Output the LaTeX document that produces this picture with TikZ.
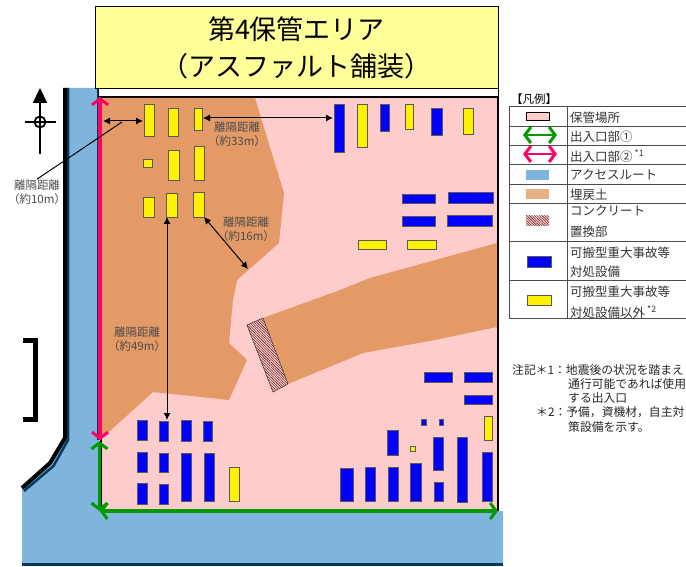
\documentclass[tikz,border=0pt]{standalone}
\usepackage{fontspec}
\usepackage{xcolor}
\usepackage{tikz}
\setmainfont{Noto Sans CJK JP}
\usetikzlibrary{arrows.meta, positioning, patterns.meta}
\definecolor{sitepink}{HTML}{FFCCCC}
\definecolor{routeblue}{HTML}{7FB5DD}
\definecolor{routeedge}{HTML}{003A5C}
\definecolor{soilbrown}{HTML}{E39A66}
\definecolor{legendsoil}{HTML}{E6B085}
\definecolor{gategreen}{HTML}{009900}
\definecolor{gatepink}{HTML}{FF0066}
\definecolor{titleyellow}{HTML}{FFFF99}

\begin{document}
\begin{tikzpicture}[
    x=1pt, y=-1pt,
    every node/.style={inner sep=0pt},
    bluebox/.style={draw=black!65, line width=0.8pt, fill=blue},
    yellowbox/.style={draw=black!65, line width=0.8pt, fill=yellow},
    hatched/.style={draw=black!70, line width=0.6pt, fill=sitepink, postaction={pattern={Lines[angle=135, distance=1.8pt, line width=0.4pt]}, pattern color=black!75!red}},
    gate_g/.style={{Straight Barb[length=6pt,width=16pt,line width=3pt]}-{Straight Barb[length=6pt,width=16pt,line width=3pt]}, line width=3.4pt, gategreen},
    gate_p/.style={{Straight Barb[length=6pt,width=16pt,line width=3pt]}-{Straight Barb[length=6pt,width=16pt,line width=3pt]}, line width=3.4pt, gatepink},
    dist/.style={{Latex[length=7pt,width=7pt]}-{Latex[length=7pt,width=7pt]}, line width=1pt},
    distlabel/.style={align=center, font=\fontsize{11.5}{14.5}\selectfont, text=black!70},
    legendtext/.style={anchor=west, font=\fontsize{12.5}{15}\selectfont, text=black!80},
    notetext/.style={anchor=west, font=\fontsize{11.8}{14}\selectfont, text=black!85}
]
\useasboundingbox (0,0) rectangle (686,567);

% --- Access route ---
\fill[routeblue] (65,88) -- (99,88) -- (99,511) -- (503,511) -- (503,564) -- (22,564) -- (22,488) -- (50,463) -- (65,438) -- cycle;
\draw[routeedge, line width=3pt] (22,564.5) -- (503,564.5);
\draw[routeedge, line width=2.5pt] (68,88) -- (68,440) -- (53.5,466) -- (24,491);
\draw[black, line width=4pt] (65,88) -- (65,438) -- (50,463) -- (22,488);
\draw[routeedge, line width=1.5pt] (98,88) -- (98,440);

% --- Storage area ---
\draw[black, line width=2pt, fill=sitepink] (101,97) rectangle (498,510);
\fill[soilbrown] (102,98) -- (255,98) -- (284,193) -- (279,243) -- (237,280) -- (233,300) -- (229,343) -- (247,360) -- (229,400) -- (153,392) -- (100,440) -- cycle;
\fill[soilbrown] (263,318) -- (340,290) -- (370,278) -- (497,243) -- (497,327) -- (435,340) -- (363,353) -- (288,384) -- cycle;
\draw[hatched] (247,325) -- (263,318) -- (288,384) -- (273,392) -- cycle;

% --- Equipment ---
\foreach \xa/\ya/\xb/\yb in {334/104/344/152, 380/104/389/131, 431/108/442/135,
    402/194/435/203, 448/192/493/203, 402/216/435/226, 447/215/492/226,
    424/372/452/382, 464/372/492/382, 464/395/492/404, 421/419/426/425, 439/419/443/425,
    387/430/398/455, 433/437/443/470, 457/437/467/502, 482/452/492/501,
    340/468/353/501, 365/467/375/501, 388/467/398/501, 410/463/421/501, 434/482/443/501,
    137/420/147/440, 159/421/168/441, 181/420/191/441, 203/421/212/441,
    137/452/147/472, 159/453/168/472, 181/453/191/501, 204/453/214/501,
    137/483/147/504, 159/484/168/504}
    \draw[bluebox] (\xa,\ya) rectangle (\xb,\yb);
\foreach \xa/\ya/\xb/\yb in {144/104/154/136, 168/108/178/136, 194/108/202/130,
    143/159/152/167, 168/150/179/180, 194/146/204/180,
    143/197/154/217, 166/193/177/217, 193/192/204/217,
    357/104/367/147, 405/104/413/129, 463/108/473/134,
    358/240/386/249, 407/240/436/249,
    484/416/492/440, 410/446/415/451, 229/467/239/501}
    \draw[yellowbox] (\xa,\ya) rectangle (\xb,\yb);

% --- Title ---
\draw[black, line width=1pt, fill=white] (98,89) rectangle (498,97);
\node[draw=black, line width=1pt, fill=titleyellow, minimum width=403pt, minimum height=82pt, align=center, font=\fontsize{27}{37}\selectfont] (title) at (296.5,48) {第4保管エリア\\（アスファルト舗装）};

% --- Gates ---
\coordinate (p_top) at (100,97);
\coordinate (p_bot) at (100,440);
\coordinate (g_mid) at (99.5,441);
\coordinate (g_cor) at (99.5,511);
\coordinate (g_rgt) at (498,511);
\draw[gate_g] (g_cor) -- (g_rgt);
\draw[gate_g] (g_mid) -- (g_cor);
\draw[gate_p] (p_top) -- (p_bot);

% --- Distances ---
\coordinate (d_a1) at (103,121);
\coordinate (d_a2) at (143,121);
\coordinate (d_a3) at (122,122);
\coordinate (d_b1) at (203,118);
\coordinate (d_b2) at (333,118);
\coordinate (d_c1) at (204,217);
\coordinate (d_c2) at (248,269);
\coordinate (d_d1) at (167,217);
\coordinate (d_d2) at (167,420);
\node[distlabel] (lab_a) at (37,192) {離隔距離\\（約10m）};
\node[distlabel] (lab_b) at (237,134) {離隔距離\\（約33m）};
\node[distlabel] (lab_c) at (246,229) {離隔距離\\（約16m）};
\node[distlabel] (lab_d) at (137,339) {離隔距離\\（約49m）};
\draw[dist] (d_a1) -- (d_a2);
\draw[line width=1pt] (d_a3) -- (lab_a.north);
\draw[dist] (d_b1) -- (d_b2);
\draw[dist] (d_c1) -- (d_c2);
\draw[dist] (d_d1) -- (d_d2);

% --- North mark and bracket ---
\coordinate (n_tip) at (40,88);
\coordinate (n_end) at (40,154);
\coordinate (n_lft) at (25,122);
\coordinate (n_rgt) at (56,122);
\draw[{Triangle[length=15pt,width=14pt]}-, line width=2.2pt] (n_tip) -- (n_end);
\draw[line width=2.2pt] (n_lft) -- (n_rgt);
\draw[line width=1.8pt] (40,122) circle (5.5);
\draw[line width=5pt] (23,340.5) -- (35.5,340.5) -- (35.5,419) -- (23,419);

% --- Legend ---
\node[anchor=west, font=\fontsize{11.5}{14}\selectfont] (leg_head) at (511,99) {【凡例】};
\foreach \ya in {106,126,145,164,184,203,241,280,318}
    \draw[black!70, line width=0.9pt] (509,\ya) -- (686,\ya);
\draw[black!70, line width=0.9pt] (509,106) -- (509,318);
\draw[black!70, line width=0.9pt] (567,106) -- (567,318);
\draw[black, line width=0.9pt, fill=sitepink] (526,112) rectangle (549,120);
\coordinate (lg_a) at (523,135);
\coordinate (lg_b) at (557,135);
\coordinate (lp_a) at (523,154);
\coordinate (lp_b) at (557,154);
\draw[gate_g, line width=2.6pt] (lg_a) -- (lg_b);
\draw[gate_p, line width=2.6pt] (lp_a) -- (lp_b);
\fill[routeblue] (526,170) rectangle (549,180);
\fill[legendsoil] (526,189) rectangle (549,199);
\draw[hatched, draw=none] (526,216) rectangle (549,226);
\draw[bluebox] (527,256) rectangle (551,267);
\draw[yellowbox] (527,295) rectangle (551,305);
\node[legendtext] (t_site) at (570,118) {保管場所};
\node[legendtext] (t_gate1) at (570,137) {出入口部①};
\node[legendtext] (t_gate2) at (570,156) {出入口部②\textsuperscript{ *1}};
\node[legendtext] (t_route) at (570,175) {アクセスルート};
\node[legendtext] (t_soil) at (570,195) {埋戻土};
\node[legendtext] (t_con1) at (570,211) {コンクリート};
\node[legendtext] (t_con2) at (570,232) {置換部};
\node[legendtext] (t_blu1) at (570,253) {可搬型重大事故等};
\node[legendtext] (t_blu2) at (570,272) {対処設備};
\node[legendtext] (t_yel1) at (570,292) {可搬型重大事故等};
\node[legendtext] (t_yel2) at (570,312) {対処設備以外\textsuperscript{ *2}};

% --- Notes ---
\node[notetext] (n_1) at (512,370) {注記＊1：地震後の状況を踏まえ};
\node[notetext] (n_2) at (568,384) {通行可能であれば使用};
\node[notetext] (n_3) at (568,398) {する出入口};
\node[notetext] (n_4) at (536,412) {＊2：予備，資機材，自主対};
\node[notetext] (n_5) at (568,427) {策設備を示す。};

\end{tikzpicture}
\end{document}
